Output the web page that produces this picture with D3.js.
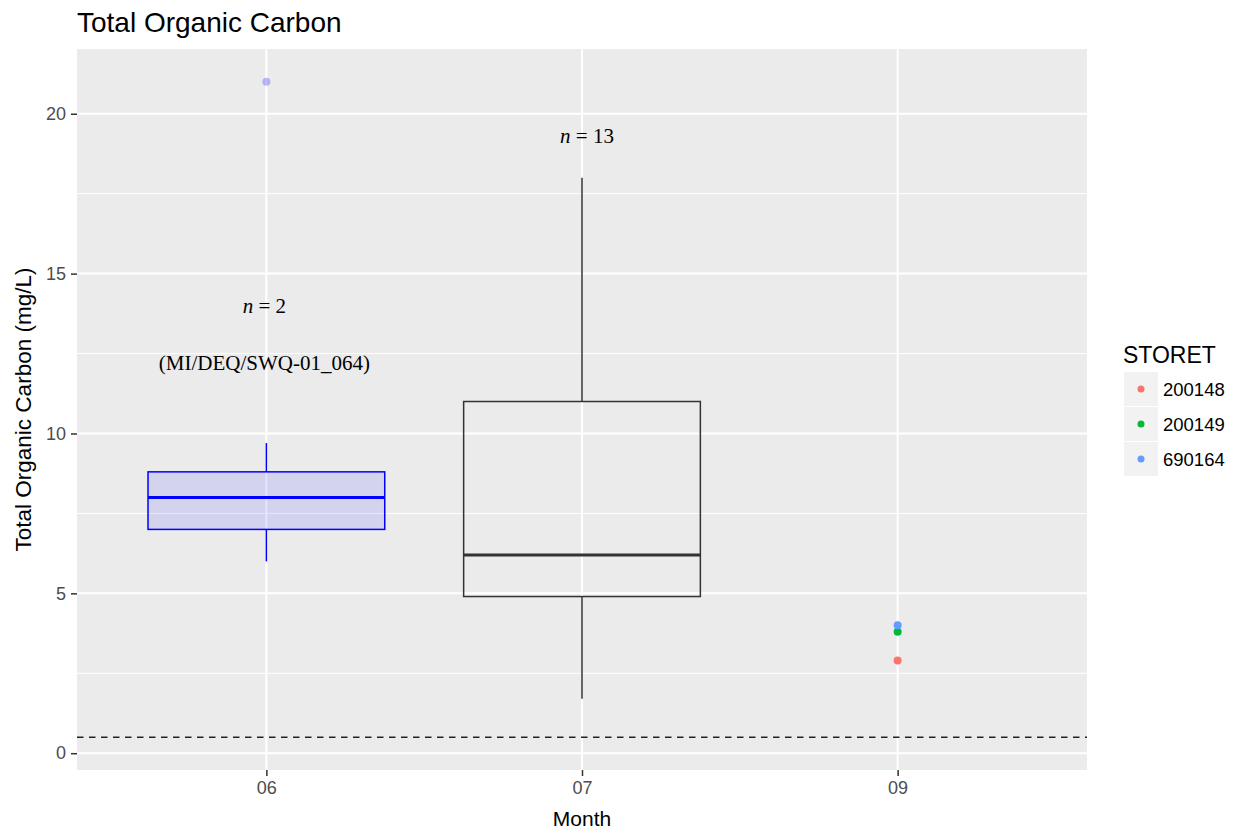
<!DOCTYPE html>
<html>
<head>
<meta charset="utf-8">
<style>
  body { margin: 0; background: #fff; }
  text { font-family: "Liberation Sans", Arial, sans-serif; }
</style>
</head>
<body>
<script src="https://d3js.org/d3.v7.min.js"></script>
<script>

    // Months on the x axis
    var months = ["06", "07", "09"];

    // Box summaries (only months with a box)
    var boxMonth = ["06", "07"];
    var boxLow = [6.0, 1.7];
    var boxQ1 = [7.0, 4.9];
    var boxMed = [8.0, 6.2];
    var boxQ3 = [8.8, 11.0];
    var boxHigh = [9.7, 18.0];
    var boxColor = ["blue", "#333333"];
    var boxFill = ["blue", "none"];

    // Outlier of the 06 box
    var outMonth = ["06"];
    var outValue = [21];

    // Single samples at 09, by STORET station
    var storet = ["200148", "200149", "690164"];
    var storetColor = ["#F8766D", "#00BA38", "#619CFF"];
    var pointMonth = ["09", "09", "09"];
    var pointValue = [2.9, 3.8, 4.0];

    // Detection limit line
    var limitValue = 0.5;

    // Text annotations
    var annMonth = ["06", "06", "07"];
    var annValue = [14.0, 12.2, 19.3];
    var annN = ["2", null, "13"];
    var annText = [null, "(MI/DEQ/SWQ-01_064)", null];

    var yTicks = [0, 5, 10, 15, 20];
    var yMinor = [2.5, 7.5, 12.5, 17.5];

    var W = 1238, H = 832;
    var panel = {left: 77, right: 1087, top: 49, bottom: 770};

    var svg = d3.select("body").append("svg")
        .attr("width", W).attr("height", H);

    var x = d3.scalePoint().domain(months)
        .range([panel.left, panel.right]).padding(0.6);
    var y = d3.scaleLinear().domain([-0.525, 22.025])
        .range([panel.bottom, panel.top]);
    var boxW = x.step() * 0.75;

    // Panel background
    svg.append("rect")
        .attr("x", panel.left).attr("y", panel.top)
        .attr("width", panel.right - panel.left)
        .attr("height", panel.bottom - panel.top)
        .attr("fill", "#ebebeb");

    // Minor gridlines
    svg.append("g").selectAll("line").data(yMinor).enter().append("line")
        .attr("x1", panel.left).attr("x2", panel.right)
        .attr("y1", function(d) { return y(d); })
        .attr("y2", function(d) { return y(d); })
        .attr("stroke", "#fff").attr("stroke-width", 1);

    // Major gridlines
    svg.append("g").selectAll("line").data(yTicks).enter().append("line")
        .attr("x1", panel.left).attr("x2", panel.right)
        .attr("y1", function(d) { return y(d); })
        .attr("y2", function(d) { return y(d); })
        .attr("stroke", "#fff").attr("stroke-width", 2);
    svg.append("g").selectAll("line").data(months).enter().append("line")
        .attr("y1", panel.top).attr("y2", panel.bottom)
        .attr("x1", function(d) { return x(d); })
        .attr("x2", function(d) { return x(d); })
        .attr("stroke", "#fff").attr("stroke-width", 2);

    // Boxplots
    var boxes = boxMonth.map(function(m, i) {
        return {m: m, lo: boxLow[i], q1: boxQ1[i], med: boxMed[i], q3: boxQ3[i],
                hi: boxHigh[i], col: boxColor[i], fill: boxFill[i]};
    });
    var bg = svg.append("g").selectAll("g").data(boxes).enter().append("g");
    bg.append("line")
        .attr("x1", function(d) { return x(d.m); }).attr("x2", function(d) { return x(d.m); })
        .attr("y1", function(d) { return y(d.q3); }).attr("y2", function(d) { return y(d.hi); })
        .attr("stroke", function(d) { return d.col; }).attr("stroke-width", 1.5);
    bg.append("line")
        .attr("x1", function(d) { return x(d.m); }).attr("x2", function(d) { return x(d.m); })
        .attr("y1", function(d) { return y(d.q1); }).attr("y2", function(d) { return y(d.lo); })
        .attr("stroke", function(d) { return d.col; }).attr("stroke-width", 1.5);
    bg.append("rect")
        .attr("x", function(d) { return x(d.m) - boxW / 2; })
        .attr("width", boxW)
        .attr("y", function(d) { return y(d.q3); })
        .attr("height", function(d) { return y(d.q1) - y(d.q3); })
        .attr("fill", function(d) { return d.fill; })
        .attr("fill-opacity", 0.1)
        .attr("stroke", function(d) { return d.col; }).attr("stroke-width", 1.5);
    bg.append("line")
        .attr("x1", function(d) { return x(d.m) - boxW / 2; })
        .attr("x2", function(d) { return x(d.m) + boxW / 2; })
        .attr("y1", function(d) { return y(d.med); }).attr("y2", function(d) { return y(d.med); })
        .attr("stroke", function(d) { return d.col; }).attr("stroke-width", 3);

    // Outliers
    svg.append("g").selectAll("circle").data(outValue).enter().append("circle")
        .attr("cx", function(d, i) { return x(outMonth[i]); })
        .attr("cy", function(d) { return y(d); })
        .attr("r", 4)
        .attr("fill", "blue").attr("fill-opacity", 0.25);

    // Station points
    svg.append("g").selectAll("circle").data(pointValue).enter().append("circle")
        .attr("cx", function(d, i) { return x(pointMonth[i]); })
        .attr("cy", function(d) { return y(d); })
        .attr("r", 4)
        .attr("fill", function(d, i) { return storetColor[i]; });

    // Dashed limit line
    svg.append("line")
        .attr("x1", panel.left).attr("x2", panel.right)
        .attr("y1", y(limitValue)).attr("y2", y(limitValue))
        .attr("stroke", "#222").attr("stroke-width", 1.6)
        .attr("stroke-dasharray", "6.5,5.5");

    // Annotations
    var ann = svg.append("g").selectAll("text").data(annValue).enter().append("text")
        .attr("x", function(d, i) { return x(annMonth[i]) + (annN[i] === "13" ? 5 : -2); })
        .attr("y", function(d) { return y(d); })
        .attr("dy", "0.35em")
        .attr("text-anchor", "middle")
        .style("font-family", "'Liberation Serif', 'Times New Roman', serif")
        .style("font-size", "21px")
        .attr("fill", "#000");
    ann.each(function(d, i) {
        var t = d3.select(this);
        if (annN[i] !== null) {
            t.append("tspan").style("font-style", "italic").text("n");
            t.append("tspan").text(" = " + annN[i]);
        } else {
            t.text(annText[i]);
        }
    });

    // Y axis
    var yAxis = svg.append("g")
        .attr("transform", "translate(" + panel.left + ",0)")
        .call(d3.axisLeft(y).tickValues(yTicks).tickSize(6).tickPadding(5));
    yAxis.select(".domain").remove();
    yAxis.selectAll(".tick line").attr("stroke", "#333").attr("stroke-width", 1.5);
    yAxis.selectAll(".tick text").attr("fill", "#4d4d4d")
        .style("font-size", "18px").style("font-family", "'Liberation Sans', Arial, sans-serif");

    // X axis
    var xAxis = svg.append("g")
        .attr("transform", "translate(0," + panel.bottom + ")")
        .call(d3.axisBottom(x).tickSize(6).tickPadding(5));
    xAxis.select(".domain").remove();
    xAxis.selectAll(".tick line").attr("stroke", "#333").attr("stroke-width", 1.5);
    xAxis.selectAll(".tick text").attr("fill", "#4d4d4d")
        .style("font-size", "18px").style("font-family", "'Liberation Sans', Arial, sans-serif");

    // Axis titles
    svg.append("text")
        .attr("x", (panel.left + panel.right) / 2).attr("y", 826)
        .attr("text-anchor", "middle")
        .style("font-size", "21px").text("Month");
    svg.append("text")
        .attr("transform", "translate(31," + ((panel.top + panel.bottom) / 2) + ") rotate(-90)")
        .attr("text-anchor", "middle")
        .style("font-size", "22.5px").text("Total Organic Carbon (mg/L)");

    // Title
    svg.append("text")
        .attr("x", panel.left).attr("y", 32)
        .style("font-size", "28px").text("Total Organic Carbon");

    // Legend
    var lg = svg.append("g").attr("transform", "translate(1124,0)");
    lg.append("text").attr("x", -1).attr("y", 363)
        .style("font-size", "23px").text("STORET");
    var items = lg.selectAll("g.item").data(storet).enter().append("g")
        .attr("class", "item")
        .attr("transform", function(d, i) { return "translate(0," + (372 + i * 35) + ")"; });
    items.append("rect").attr("width", 34).attr("height", 34).attr("fill", "#f2f2f2");
    items.append("circle").attr("cx", 17).attr("cy", 17).attr("r", 3.5)
        .attr("fill", function(d, i) { return storetColor[i]; });
    items.append("text").attr("x", 39).attr("y", 18).attr("dy", "0.35em")
        .style("font-size", "18.5px").attr("fill", "#000").text(function(d) { return d; });

</script>
</body>
</html>
